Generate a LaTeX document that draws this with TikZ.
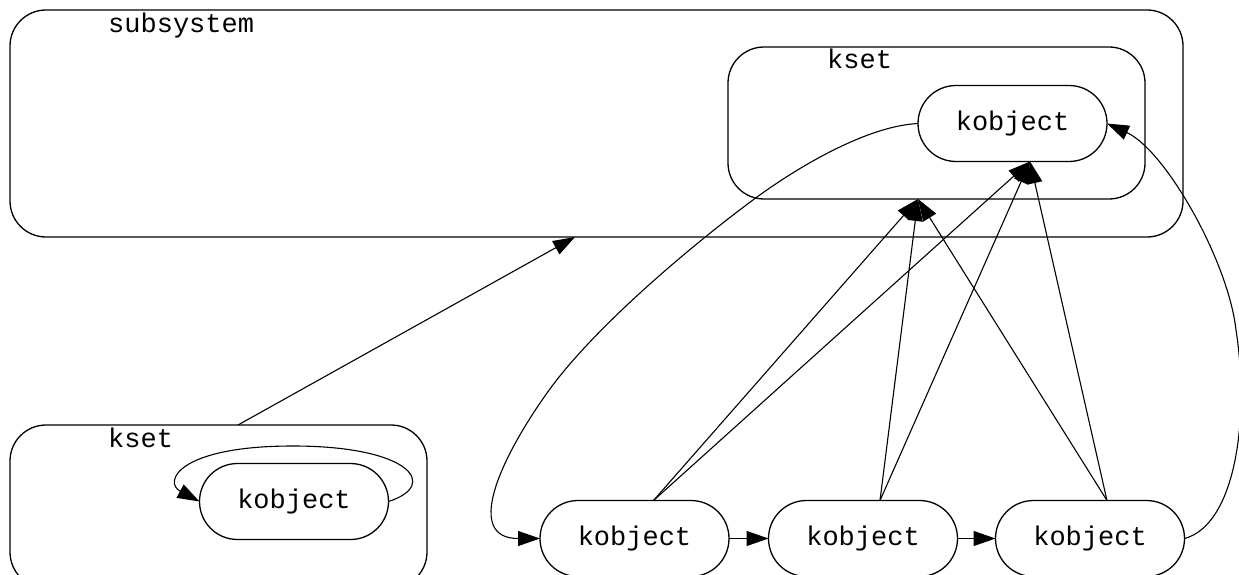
\documentclass[tikz,border=0pt]{standalone}
\usepackage{fontspec}
\setmonofont{Liberation Mono}
\usetikzlibrary{arrows.meta}
\begin{document}
\begin{tikzpicture}[x=1pt,y=-1pt,
  txt/.style={font=\ttfamily\fontsize{27}{32}\selectfont, inner sep=0pt},
  container/.style={draw, line width=1.3pt, rounded corners=36pt, inner sep=0pt, outer sep=0pt},
  kobj/.style={draw, line width=1.3pt, rounded corners=38pt, minimum width=189pt, minimum height=76pt,
               inner sep=0pt, outer sep=0pt, font=\ttfamily\fontsize{27}{32}\selectfont},
  conn/.style={line width=1.1pt, -{Triangle[length=22pt,width=15pt]}}]
\useasboundingbox (0,0) rectangle (1239,575);

% containers
\node[container, minimum width=1173pt, minimum height=227pt] (ss) at (596.5,123.5) {};
\node[txt, anchor=base west] (sslabel) at (108,33) {subsystem};
\node[container, minimum width=417pt, minimum height=152pt] (ksetT) at (936.5,123) {};
\node[txt, anchor=base west] (ksetTlabel) at (827,69) {kset};
\node[container, minimum width=417pt, minimum height=163pt] (ksetB) at (218.5,506.5) {};
\node[txt, anchor=base west] (ksetBlabel) at (108,447) {kset};

% kobjects
\node[kobj] (koT) at (1012.5,123.5) {kobject};
\node[kobj] (koBL) at (294,501.5) {kobject};
\node[kobj] (ko1) at (634.5,538.5) {kobject};
\node[kobj] (ko2) at (863,538.5) {kobject};
\node[kobj] (ko3) at (1090,538.5) {kobject};

% connectors
\draw[conn] ([xshift=19.5pt]ksetB.north) -- ([xshift=-21.5pt]ss.south);

\draw[conn] (koBL.east) .. controls (440,485) and (410,446) .. (293,446)
                        .. controls (178,446) and (163,482) .. (koBL.west);

\draw[conn] (ko1.east) -- (ko2.west);
\draw[conn] (ko2.east) -- (ko3.west);

\draw[conn] (koT.west) .. controls (868,126) and (801,165) .. (757,197)
                       .. controls (693,244) and (593,328) .. (547,393)
                       .. controls (498,462) and (465,538.5) .. (ko1.west);

\draw[conn] (ko3.east) .. controls (1235,525) and (1250,420) .. (1236,330)
                       .. controls (1228,260) and (1165,150) .. (koT.east);

\draw[conn] ([xshift=19pt]ko1.north) -- ([xshift=-18.5pt]ksetT.south);
\draw[conn] ([xshift=19pt]ko1.north) -- ([xshift=17.5pt]koT.south);
\draw[conn] ([xshift=17pt]ko2.north) -- ([xshift=-18.5pt]ksetT.south);
\draw[conn] ([xshift=17pt]ko2.north) -- ([xshift=17.5pt]koT.south);
\draw[conn] ([xshift=17pt]ko3.north) -- ([xshift=-18.5pt]ksetT.south);
\draw[conn] ([xshift=17pt]ko3.north) -- ([xshift=17.5pt]koT.south);
\end{tikzpicture}
\end{document}
